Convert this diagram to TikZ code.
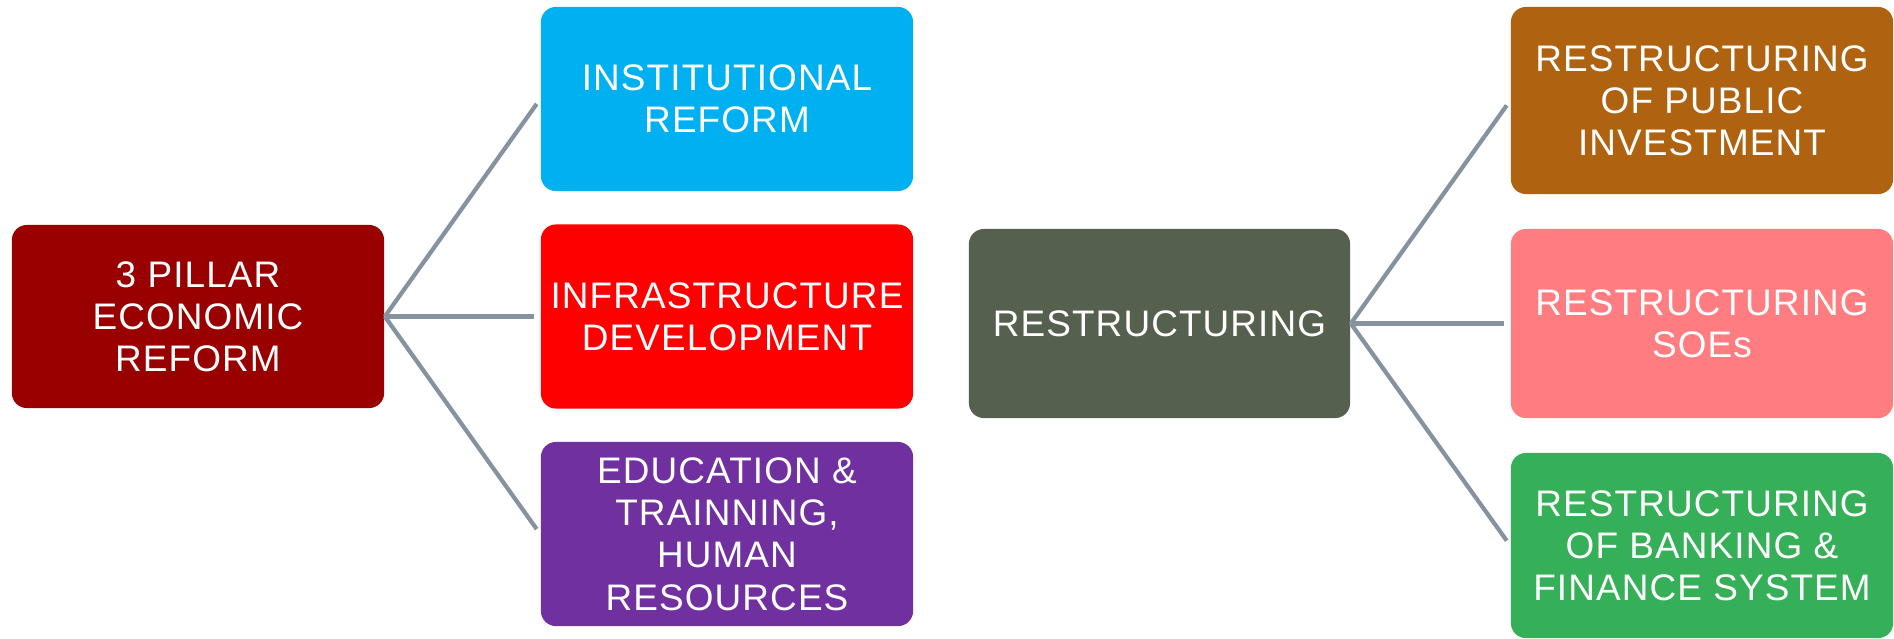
\documentclass[tikz,border=0pt]{standalone}
\usepackage{fontspec}
\setmainfont[LetterSpace=3]{Liberation Sans}
\usetikzlibrary{positioning}
\definecolor{pillarred}{HTML}{990000}
\definecolor{instblue}{HTML}{00B0F0}
\definecolor{infrared}{HTML}{FF0000}
\definecolor{edupurple}{HTML}{7030A0}
\definecolor{restrgray}{HTML}{55604F}
\definecolor{pubbrown}{HTML}{AF6310}
\definecolor{soepink}{HTML}{FF7C80}
\definecolor{bankgreen}{HTML}{36B058}
\definecolor{linkgray}{HTML}{8592A0}

\begin{document}
\begin{tikzpicture}[x=0.01cm, y=-0.01cm,
    box/.style={rounded corners=0.15cm, text=white, align=center, inner sep=0pt,
        minimum width=3.72cm, minimum height=1.84cm,
        font=\fontsize{10.5}{12}\selectfont},
    link/.style={draw=linkgray, line width=1.2pt, shorten >=0.06cm}]
    \useasboundingbox (0, 0) rectangle (1894, 638);
    % first tree
    \node[box, fill=pillarred, minimum height=1.83cm] (pillar) at (198, 316.5) {3 PILLAR\\ECONOMIC\\REFORM};
    \node[box, fill=instblue] (inst) at (727, 99) {INSTITUTIONAL\\REFORM};
    \node[box, fill=infrared] (infra) at (727, 316.5) {INFRASTRUCTURE\\DEVELOPMENT};
    \node[box, fill=edupurple] (edu) at (727, 534) {EDUCATION \&\\TRAINNING,\\HUMAN\\RESOURCES};
    \draw[link] (pillar.east) -- (inst.west);
    \draw[link] (pillar.east) -- (infra.west);
    \draw[link] (pillar.east) -- (edu.west);
    % second tree
    \node[box, fill=restrgray, minimum width=3.81cm, minimum height=1.89cm] (restr) at (1159.5, 323.5) {RESTRUCTURING};
    \node[box, fill=pubbrown, minimum width=3.82cm, minimum height=1.87cm] (pubinv) at (1702, 100.5) {RESTRUCTURING\\OF PUBLIC\\INVESTMENT};
    \node[box, fill=soepink, minimum width=3.82cm, minimum height=1.89cm] (soe) at (1702, 323.5) {RESTRUCTURING\\SOEs};
    \node[box, fill=bankgreen, minimum width=3.82cm, minimum height=1.85cm] (bank) at (1702, 545.5) {RESTRUCTURING\\OF BANKING \&\\FINANCE SYSTEM};
    \draw[link] (restr.east) -- (pubinv.west);
    \draw[link] (restr.east) -- (soe.west);
    \draw[link] (restr.east) -- (bank.west);
\end{tikzpicture}
\end{document}
